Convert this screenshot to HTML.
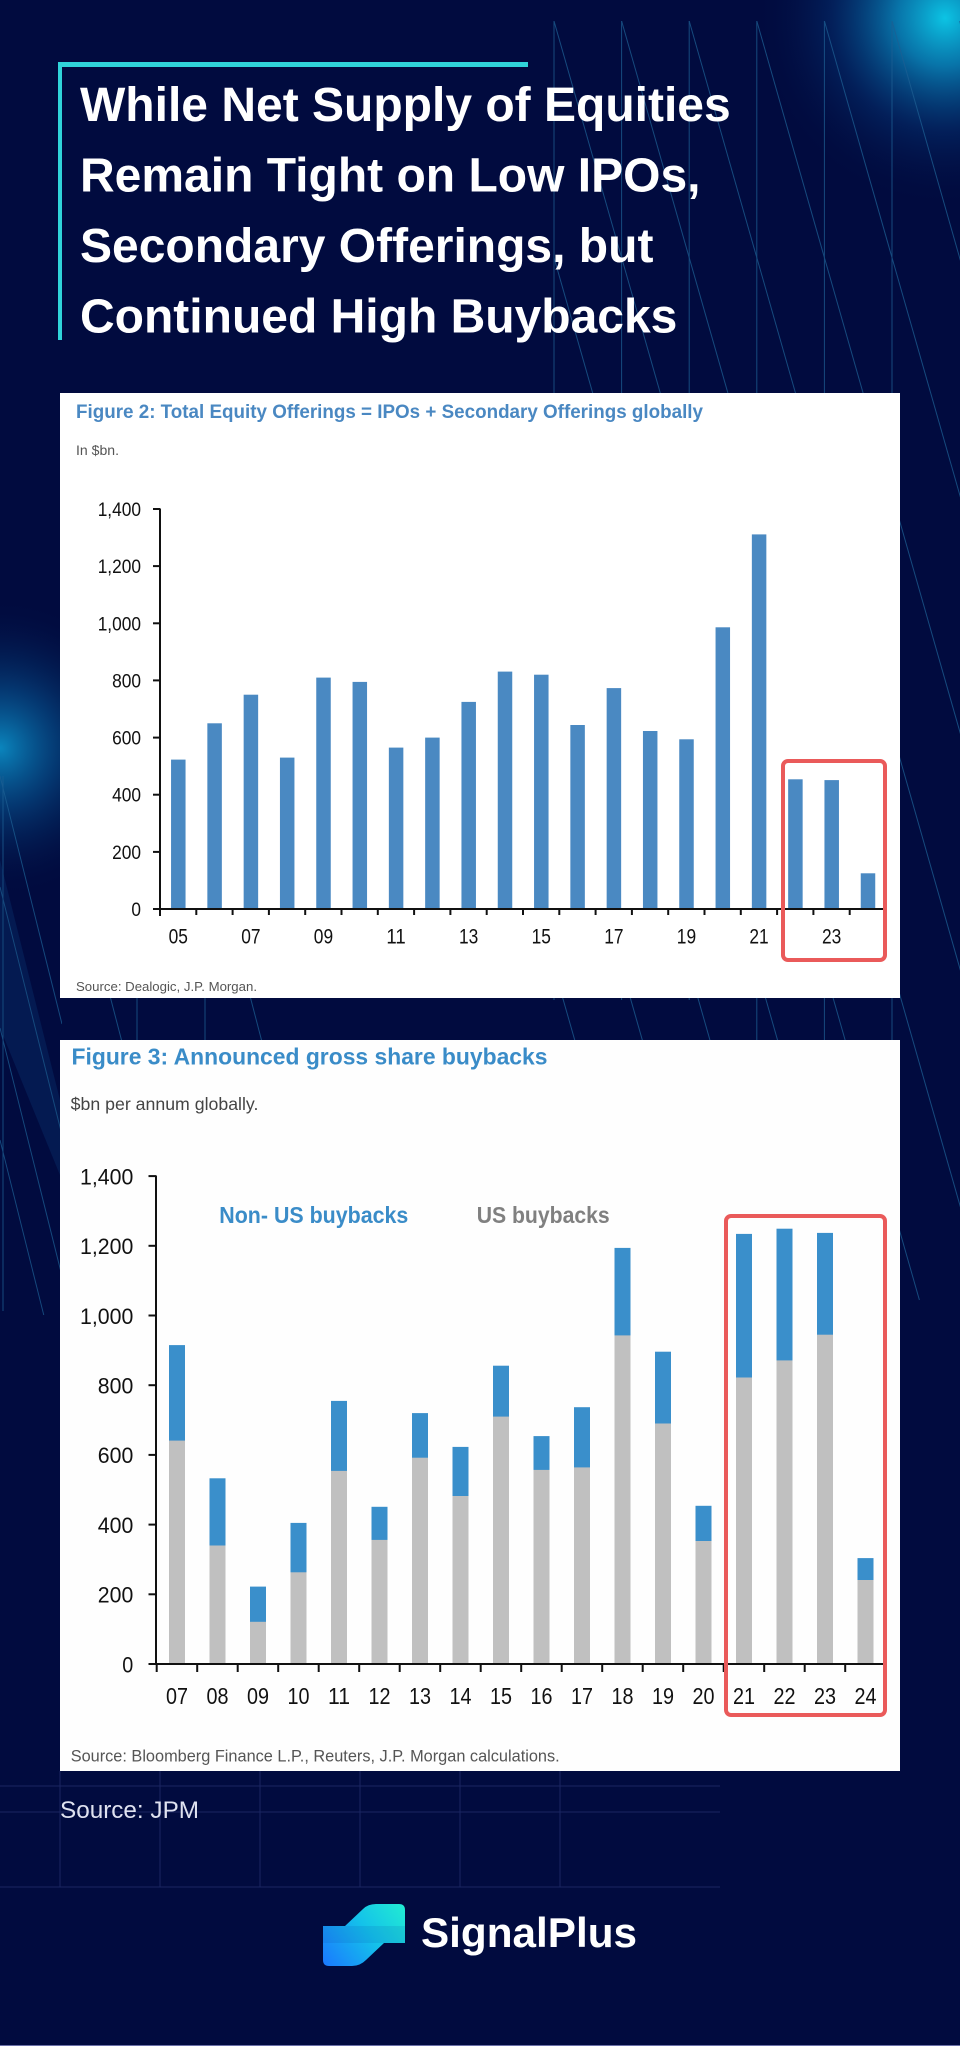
<!DOCTYPE html>
<html>
<head>
<meta charset="utf-8">
<style>
html,body{margin:0;padding:0;background:#010b3f;}
svg{display:block;}
</style>
</head>
<body>
<svg width="960" height="2046" viewBox="0 0 960 2046" xmlns="http://www.w3.org/2000/svg" font-family="'Liberation Sans', Arial, sans-serif">
<defs>
  <radialGradient id="gTR" cx="945" cy="18" r="190" gradientUnits="userSpaceOnUse">
    <stop offset="0" stop-color="#0cc4e4" stop-opacity="1"/>
    <stop offset="0.25" stop-color="#0a8fc4" stop-opacity="0.8"/>
    <stop offset="0.6" stop-color="#06448a" stop-opacity="0.35"/>
    <stop offset="1" stop-color="#010b3f" stop-opacity="0"/>
  </radialGradient>
  <radialGradient id="gL" cx="0" cy="748" r="150" gradientUnits="userSpaceOnUse">
    <stop offset="0" stop-color="#0b8cc4" stop-opacity="0.95"/>
    <stop offset="0.4" stop-color="#075a98" stop-opacity="0.55"/>
    <stop offset="1" stop-color="#010b3f" stop-opacity="0"/>
  </radialGradient>
  <linearGradient id="gLogo" x1="405" y1="1904" x2="323" y2="1966" gradientUnits="userSpaceOnUse">
    <stop offset="0" stop-color="#22ecd2"/>
    <stop offset="0.45" stop-color="#14c2ea"/>
    <stop offset="1" stop-color="#1a78ff"/>
  </linearGradient>
  <clipPath id="cR"><rect x="554" y="21" width="406" height="1280"/></clipPath>
  <clipPath id="cL"><rect x="0" y="770" width="62" height="545"/></clipPath>
</defs>

<!-- background -->
<rect x="0" y="0" width="960" height="2046" fill="#010b3f"/>
<rect x="0" y="0" width="960" height="260" fill="url(#gTR)"/>
<rect x="0" y="560" width="200" height="380" fill="url(#gL)"/>

<!-- right decorative lines -->
<g stroke="#1d5f93" stroke-width="1" opacity="0.75" fill="none">
  <line x1="554" y1="21" x2="554" y2="1000"/>
  <line x1="621.6" y1="21" x2="621.6" y2="1000"/>
  <line x1="689.2" y1="21" x2="689.2" y2="1000"/>
  <line x1="756.8" y1="21" x2="756.8" y2="1300"/>
  <line x1="824.4" y1="21" x2="824.4" y2="1300"/>
  <line x1="892" y1="21" x2="892" y2="1300"/>
  <g clip-path="url(#cR)">
    <line x1="216" y1="21" x2="581.4" y2="1300"/>
    <line x1="283.6" y1="21" x2="649" y2="1300"/>
    <line x1="351.2" y1="21" x2="716.6" y2="1300"/>
    <line x1="418.8" y1="21" x2="784.2" y2="1300"/>
    <line x1="486.4" y1="21" x2="851.8" y2="1300"/>
    <line x1="554" y1="21" x2="919.4" y2="1300"/>
    <line x1="621.6" y1="21" x2="987" y2="1300"/>
    <line x1="689.2" y1="21" x2="1054.6" y2="1300"/>
    <line x1="756.8" y1="21" x2="1122.2" y2="1300"/>
    <line x1="824.4" y1="21" x2="1189.8" y2="1300"/>
    <line x1="892" y1="21" x2="1257.4" y2="1300"/>
    <line x1="959.6" y1="21" x2="1325" y2="1300"/>
  </g>
</g>

<!-- left decorative lines -->
<g stroke="#1d5f93" stroke-width="1" opacity="0.75" fill="none">
  <polygon points="0,860 62,1108 62,1180 0,1028" fill="#0d3a78" fill-opacity="0.45" stroke="none"/>
  <line x1="3" y1="776" x2="3" y2="1311"/>
  <g clip-path="url(#cL)">
    <line x1="0" y1="776" x2="62" y2="1024"/>
    <line x1="0" y1="887" x2="62" y2="1135"/>
    <line x1="0" y1="1028" x2="62" y2="1276"/>
    <line x1="0" y1="1140" x2="62" y2="1388"/>
  </g>
  <line x1="137" y1="996" x2="137" y2="1042"/>
  <line x1="205" y1="996" x2="205" y2="1042"/>
  <line x1="110" y1="996" x2="122" y2="1042"/>
  <line x1="250" y1="996" x2="262" y2="1042"/>
</g>

<!-- bottom grid -->
<g stroke="#1a2662" stroke-width="1" fill="none">
  <line x1="0" y1="1786" x2="720" y2="1786"/>
  <line x1="0" y1="1812" x2="720" y2="1812"/>
  <line x1="0" y1="1887" x2="720" y2="1887"/>
  <line x1="60" y1="1771" x2="60" y2="1887"/>
  <line x1="160" y1="1771" x2="160" y2="1887"/>
  <line x1="260" y1="1771" x2="260" y2="1887"/>
  <line x1="360" y1="1771" x2="360" y2="1887"/>
  <line x1="460" y1="1771" x2="460" y2="1887"/>
  <line x1="560" y1="1771" x2="560" y2="1887"/>
</g>
<line x1="0" y1="2045.5" x2="960" y2="2045.5" stroke="#6a70a8" stroke-width="1"/>

<!-- title -->
<rect x="58" y="62" width="470" height="5" fill="#30d4da"/>
<rect x="58" y="62" width="4" height="278" fill="#30d4da"/>
<g fill="#ffffff" font-weight="bold" font-size="48">
  <text x="80" y="121">While Net Supply of Equities</text>
  <text x="80" y="191.5">Remain Tight on Low IPOs,</text>
  <text x="80" y="262">Secondary Offerings, but</text>
  <text x="80" y="332.5">Continued High Buybacks</text>
</g>

<!-- ============ Panel 1 ============ -->
<rect x="60" y="393" width="840" height="605" fill="#ffffff"/>
<text x="76" y="418" font-size="19.5" font-weight="bold" fill="#4a88c2" textLength="627" lengthAdjust="spacingAndGlyphs">Figure 2: Total Equity Offerings = IPOs + Secondary Offerings globally</text>
<text x="76" y="455" font-size="14" fill="#555555" textLength="43" lengthAdjust="spacingAndGlyphs">In $bn.</text>

<!-- bars chart 1 -->
<g fill="#4a89c2">
  <rect x="171.05" y="759.6" width="14.5" height="149.4"/>
  <rect x="207.35" y="723.3" width="14.5" height="185.7"/>
  <rect x="243.65" y="694.7" width="14.5" height="214.3"/>
  <rect x="279.95" y="757.6" width="14.5" height="151.4"/>
  <rect x="316.25" y="677.6" width="14.5" height="231.4"/>
  <rect x="352.55" y="681.9" width="14.5" height="227.1"/>
  <rect x="388.85" y="747.6" width="14.5" height="161.4"/>
  <rect x="425.15" y="737.6" width="14.5" height="171.4"/>
  <rect x="461.45" y="701.9" width="14.5" height="207.1"/>
  <rect x="497.75" y="671.6" width="14.5" height="237.4"/>
  <rect x="534.05" y="674.7" width="14.5" height="234.3"/>
  <rect x="570.35" y="725.0" width="14.5" height="184.0"/>
  <rect x="606.65" y="688.1" width="14.5" height="220.9"/>
  <rect x="642.95" y="731.0" width="14.5" height="178.0"/>
  <rect x="679.25" y="739.3" width="14.5" height="169.7"/>
  <rect x="715.55" y="627.3" width="14.5" height="281.7"/>
  <rect x="751.85" y="534.4" width="14.5" height="374.6"/>
  <rect x="788.15" y="779.3" width="14.5" height="129.7"/>
  <rect x="824.45" y="780.1" width="14.5" height="128.9"/>
  <rect x="860.75" y="873.3" width="14.5" height="35.7"/>
</g>

<!-- axes chart 1 -->
<g stroke="#111111" stroke-width="2" fill="none">
  <line x1="160" y1="508.5" x2="160" y2="910"/>
  <line x1="159" y1="909" x2="884" y2="909"/>
  <line x1="153" y1="509" x2="160" y2="509"/>
  <line x1="153" y1="566.1" x2="160" y2="566.1"/>
  <line x1="153" y1="623.3" x2="160" y2="623.3"/>
  <line x1="153" y1="680.4" x2="160" y2="680.4"/>
  <line x1="153" y1="737.6" x2="160" y2="737.6"/>
  <line x1="153" y1="794.7" x2="160" y2="794.7"/>
  <line x1="153" y1="851.9" x2="160" y2="851.9"/>
  <line x1="153" y1="909" x2="160" y2="909"/>
  <line x1="160" y1="909" x2="160" y2="916"/>
  <line x1="196.3" y1="909" x2="196.3" y2="915"/>
  <line x1="232.6" y1="909" x2="232.6" y2="915"/>
  <line x1="268.9" y1="909" x2="268.9" y2="915"/>
  <line x1="305.2" y1="909" x2="305.2" y2="915"/>
  <line x1="341.5" y1="909" x2="341.5" y2="915"/>
  <line x1="377.8" y1="909" x2="377.8" y2="915"/>
  <line x1="414.1" y1="909" x2="414.1" y2="915"/>
  <line x1="450.4" y1="909" x2="450.4" y2="915"/>
  <line x1="486.7" y1="909" x2="486.7" y2="915"/>
  <line x1="523" y1="909" x2="523" y2="915"/>
  <line x1="559.3" y1="909" x2="559.3" y2="915"/>
  <line x1="595.6" y1="909" x2="595.6" y2="915"/>
  <line x1="631.9" y1="909" x2="631.9" y2="915"/>
  <line x1="668.2" y1="909" x2="668.2" y2="915"/>
  <line x1="704.5" y1="909" x2="704.5" y2="915"/>
  <line x1="740.8" y1="909" x2="740.8" y2="915"/>
  <line x1="777.1" y1="909" x2="777.1" y2="915"/>
  <line x1="813.4" y1="909" x2="813.4" y2="915"/>
  <line x1="849.7" y1="909" x2="849.7" y2="915"/>
</g>
<g font-size="19.5" fill="#111111" text-anchor="end">
  <text x="141" y="516" textLength="43.3" lengthAdjust="spacingAndGlyphs">1,400</text>
  <text x="141" y="573.1" textLength="43.3" lengthAdjust="spacingAndGlyphs">1,200</text>
  <text x="141" y="630.3" textLength="43.3" lengthAdjust="spacingAndGlyphs">1,000</text>
  <text x="141" y="687.4" textLength="28.9" lengthAdjust="spacingAndGlyphs">800</text>
  <text x="141" y="744.6" textLength="28.9" lengthAdjust="spacingAndGlyphs">600</text>
  <text x="141" y="801.7" textLength="28.9" lengthAdjust="spacingAndGlyphs">400</text>
  <text x="141" y="858.9" textLength="28.9" lengthAdjust="spacingAndGlyphs">200</text>
  <text x="141" y="916" textLength="9.6" lengthAdjust="spacingAndGlyphs">0</text>
</g>
<g font-size="21" fill="#111111">
  <text x="168.6" y="943.5" textLength="19.3" lengthAdjust="spacingAndGlyphs">05</text>
  <text x="241.2" y="943.5" textLength="19.3" lengthAdjust="spacingAndGlyphs">07</text>
  <text x="313.8" y="943.5" textLength="19.3" lengthAdjust="spacingAndGlyphs">09</text>
  <text x="386.4" y="943.5" textLength="19.3" lengthAdjust="spacingAndGlyphs">11</text>
  <text x="459" y="943.5" textLength="19.3" lengthAdjust="spacingAndGlyphs">13</text>
  <text x="531.6" y="943.5" textLength="19.3" lengthAdjust="spacingAndGlyphs">15</text>
  <text x="604.2" y="943.5" textLength="19.3" lengthAdjust="spacingAndGlyphs">17</text>
  <text x="676.8" y="943.5" textLength="19.3" lengthAdjust="spacingAndGlyphs">19</text>
  <text x="749.4" y="943.5" textLength="19.3" lengthAdjust="spacingAndGlyphs">21</text>
  <text x="822" y="943.5" textLength="19.3" lengthAdjust="spacingAndGlyphs">23</text>
</g>
<rect x="783" y="761" width="102" height="199" rx="5" ry="5" fill="none" stroke="#ea5a5a" stroke-width="4"/>
<text x="76" y="991" font-size="13" fill="#555555" textLength="181" lengthAdjust="spacingAndGlyphs">Source: Dealogic, J.P. Morgan.</text>

<!-- ============ Panel 2 ============ -->
<rect x="60" y="1040" width="840" height="731" fill="#fefefe"/>
<text x="71.5" y="1064.6" font-size="22.8" font-weight="bold" fill="#3a8cc8" textLength="476" lengthAdjust="spacingAndGlyphs">Figure 3: Announced gross share buybacks</text>
<text x="70.7" y="1110" font-size="17.6" fill="#444444" textLength="187.7" lengthAdjust="spacingAndGlyphs">$bn per annum globally.</text>

<!-- legend -->
<text x="219.3" y="1223" font-size="23" font-weight="bold" fill="#3a8cc8" textLength="189" lengthAdjust="spacingAndGlyphs">Non- US buybacks</text>
<text x="476.7" y="1223" font-size="23" font-weight="bold" fill="#808080" textLength="133" lengthAdjust="spacingAndGlyphs">US buybacks</text>

<!-- bars chart 2: blue (total) -->
<g fill="#3a8fcb">
  <rect x="169" y="1345.1" width="16" height="318.9"/>
  <rect x="209.5" y="1478.3" width="16" height="185.7"/>
  <rect x="250" y="1586.6" width="16" height="77.4"/>
  <rect x="290.5" y="1522.9" width="16" height="141.1"/>
  <rect x="331" y="1400.9" width="16" height="263.1"/>
  <rect x="371.5" y="1506.8" width="16" height="157.2"/>
  <rect x="412" y="1413.1" width="16" height="250.9"/>
  <rect x="452.5" y="1446.9" width="16" height="217.1"/>
  <rect x="493" y="1365.7" width="16" height="298.3"/>
  <rect x="533.5" y="1436.1" width="16" height="227.9"/>
  <rect x="574" y="1407.2" width="16" height="256.8"/>
  <rect x="614.5" y="1247.9" width="16" height="416.1"/>
  <rect x="655" y="1351.7" width="16" height="312.3"/>
  <rect x="695.5" y="1505.8" width="16" height="158.2"/>
  <rect x="736" y="1233.9" width="16" height="430.1"/>
  <rect x="776.5" y="1228.7" width="16" height="435.3"/>
  <rect x="817" y="1232.9" width="16" height="431.1"/>
  <rect x="857.5" y="1558.1" width="16" height="105.9"/>
</g>
<!-- gray (US) -->
<g fill="#c0c0c0">
  <rect x="169" y="1440.6" width="16" height="223.4"/>
  <rect x="209.5" y="1545.5" width="16" height="118.5"/>
  <rect x="250" y="1621.8" width="16" height="42.2"/>
  <rect x="290.5" y="1572.3" width="16" height="91.7"/>
  <rect x="331" y="1470.9" width="16" height="193.1"/>
  <rect x="371.5" y="1539.9" width="16" height="124.1"/>
  <rect x="412" y="1457.7" width="16" height="206.3"/>
  <rect x="452.5" y="1496.0" width="16" height="168.0"/>
  <rect x="493" y="1416.6" width="16" height="247.4"/>
  <rect x="533.5" y="1469.9" width="16" height="194.1"/>
  <rect x="574" y="1467.4" width="16" height="196.6"/>
  <rect x="614.5" y="1335.4" width="16" height="328.6"/>
  <rect x="655" y="1423.5" width="16" height="240.5"/>
  <rect x="695.5" y="1541.0" width="16" height="123.0"/>
  <rect x="736" y="1377.5" width="16" height="286.5"/>
  <rect x="776.5" y="1360.4" width="16" height="303.6"/>
  <rect x="817" y="1334.7" width="16" height="329.3"/>
  <rect x="857.5" y="1580.0" width="16" height="84.0"/>
</g>

<!-- axes chart 2 -->
<g stroke="#111111" stroke-width="2" fill="none">
  <line x1="156" y1="1175.5" x2="156" y2="1665"/>
  <line x1="155" y1="1664" x2="887" y2="1664"/>
  <line x1="148.5" y1="1176.1" x2="156" y2="1176.1"/>
  <line x1="148.5" y1="1245.8" x2="156" y2="1245.8"/>
  <line x1="148.5" y1="1315.5" x2="156" y2="1315.5"/>
  <line x1="148.5" y1="1385.2" x2="156" y2="1385.2"/>
  <line x1="148.5" y1="1454.9" x2="156" y2="1454.9"/>
  <line x1="148.5" y1="1524.6" x2="156" y2="1524.6"/>
  <line x1="148.5" y1="1594.3" x2="156" y2="1594.3"/>
  <line x1="148.5" y1="1664" x2="156" y2="1664"/>
  <line x1="156.7" y1="1664" x2="156.7" y2="1672"/>
  <line x1="197.2" y1="1664" x2="197.2" y2="1672"/>
  <line x1="237.7" y1="1664" x2="237.7" y2="1672"/>
  <line x1="278.2" y1="1664" x2="278.2" y2="1672"/>
  <line x1="318.7" y1="1664" x2="318.7" y2="1672"/>
  <line x1="359.2" y1="1664" x2="359.2" y2="1672"/>
  <line x1="399.7" y1="1664" x2="399.7" y2="1672"/>
  <line x1="440.2" y1="1664" x2="440.2" y2="1672"/>
  <line x1="480.7" y1="1664" x2="480.7" y2="1672"/>
  <line x1="521.2" y1="1664" x2="521.2" y2="1672"/>
  <line x1="561.7" y1="1664" x2="561.7" y2="1672"/>
  <line x1="602.2" y1="1664" x2="602.2" y2="1672"/>
  <line x1="642.7" y1="1664" x2="642.7" y2="1672"/>
  <line x1="683.2" y1="1664" x2="683.2" y2="1672"/>
  <line x1="723.7" y1="1664" x2="723.7" y2="1672"/>
  <line x1="764.2" y1="1664" x2="764.2" y2="1672"/>
  <line x1="804.7" y1="1664" x2="804.7" y2="1672"/>
  <line x1="845.2" y1="1664" x2="845.2" y2="1672"/>
  <line x1="885.7" y1="1664" x2="885.7" y2="1672"/>
</g>
<g font-size="22.5" fill="#111111" text-anchor="end">
  <text x="133.3" y="1184.4" textLength="53.3" lengthAdjust="spacingAndGlyphs">1,400</text>
  <text x="133.3" y="1254.1" textLength="53.3" lengthAdjust="spacingAndGlyphs">1,200</text>
  <text x="133.3" y="1323.8" textLength="53.3" lengthAdjust="spacingAndGlyphs">1,000</text>
  <text x="133.3" y="1393.5" textLength="35.5" lengthAdjust="spacingAndGlyphs">800</text>
  <text x="133.3" y="1463.2" textLength="35.5" lengthAdjust="spacingAndGlyphs">600</text>
  <text x="133.3" y="1532.9" textLength="35.5" lengthAdjust="spacingAndGlyphs">400</text>
  <text x="133.3" y="1602.6" textLength="35.5" lengthAdjust="spacingAndGlyphs">200</text>
  <text x="133.3" y="1672.3" textLength="11" lengthAdjust="spacingAndGlyphs">0</text>
</g>
<g font-size="23" fill="#111111" text-anchor="middle">
  <text x="177" y="1704" textLength="22" lengthAdjust="spacingAndGlyphs">07</text>
  <text x="217.5" y="1704" textLength="22" lengthAdjust="spacingAndGlyphs">08</text>
  <text x="258" y="1704" textLength="22" lengthAdjust="spacingAndGlyphs">09</text>
  <text x="298.5" y="1704" textLength="22" lengthAdjust="spacingAndGlyphs">10</text>
  <text x="339" y="1704" textLength="22" lengthAdjust="spacingAndGlyphs">11</text>
  <text x="379.5" y="1704" textLength="22" lengthAdjust="spacingAndGlyphs">12</text>
  <text x="420" y="1704" textLength="22" lengthAdjust="spacingAndGlyphs">13</text>
  <text x="460.5" y="1704" textLength="22" lengthAdjust="spacingAndGlyphs">14</text>
  <text x="501" y="1704" textLength="22" lengthAdjust="spacingAndGlyphs">15</text>
  <text x="541.5" y="1704" textLength="22" lengthAdjust="spacingAndGlyphs">16</text>
  <text x="582" y="1704" textLength="22" lengthAdjust="spacingAndGlyphs">17</text>
  <text x="622.5" y="1704" textLength="22" lengthAdjust="spacingAndGlyphs">18</text>
  <text x="663" y="1704" textLength="22" lengthAdjust="spacingAndGlyphs">19</text>
  <text x="703.5" y="1704" textLength="22" lengthAdjust="spacingAndGlyphs">20</text>
  <text x="744" y="1704" textLength="22" lengthAdjust="spacingAndGlyphs">21</text>
  <text x="784.5" y="1704" textLength="22" lengthAdjust="spacingAndGlyphs">22</text>
  <text x="825" y="1704" textLength="22" lengthAdjust="spacingAndGlyphs">23</text>
  <text x="865.5" y="1704" textLength="22" lengthAdjust="spacingAndGlyphs">24</text>
</g>
<rect x="726" y="1216" width="159" height="499" rx="5" ry="5" fill="none" stroke="#ea5a5a" stroke-width="4"/>
<text x="70.7" y="1761.7" font-size="16.5" fill="#555555" textLength="489" lengthAdjust="spacingAndGlyphs">Source: Bloomberg Finance L.P., Reuters, J.P. Morgan calculations.</text>

<!-- footer -->
<text x="60" y="1818" font-size="24" fill="#dfe2f0" textLength="139" lengthAdjust="spacingAndGlyphs">Source: JPM</text>

<path d="M323,1926 L345,1926 L363,1909 Q368,1904 376,1904 L399,1904 Q405,1904 405,1910 L405,1943 L384,1943 L366,1960 Q360,1966 352,1966 L329,1966 Q323,1966 323,1960 Z" fill="url(#gLogo)"/>
<path d="M323,1926 L405,1926 L405,1943 L323,1943 Z" fill="#0a3c9a" opacity="0.12"/>
<text x="421" y="1947" font-size="42" font-weight="bold" fill="#ffffff" textLength="216" lengthAdjust="spacingAndGlyphs">SignalPlus</text>
</svg>
</body>
</html>
